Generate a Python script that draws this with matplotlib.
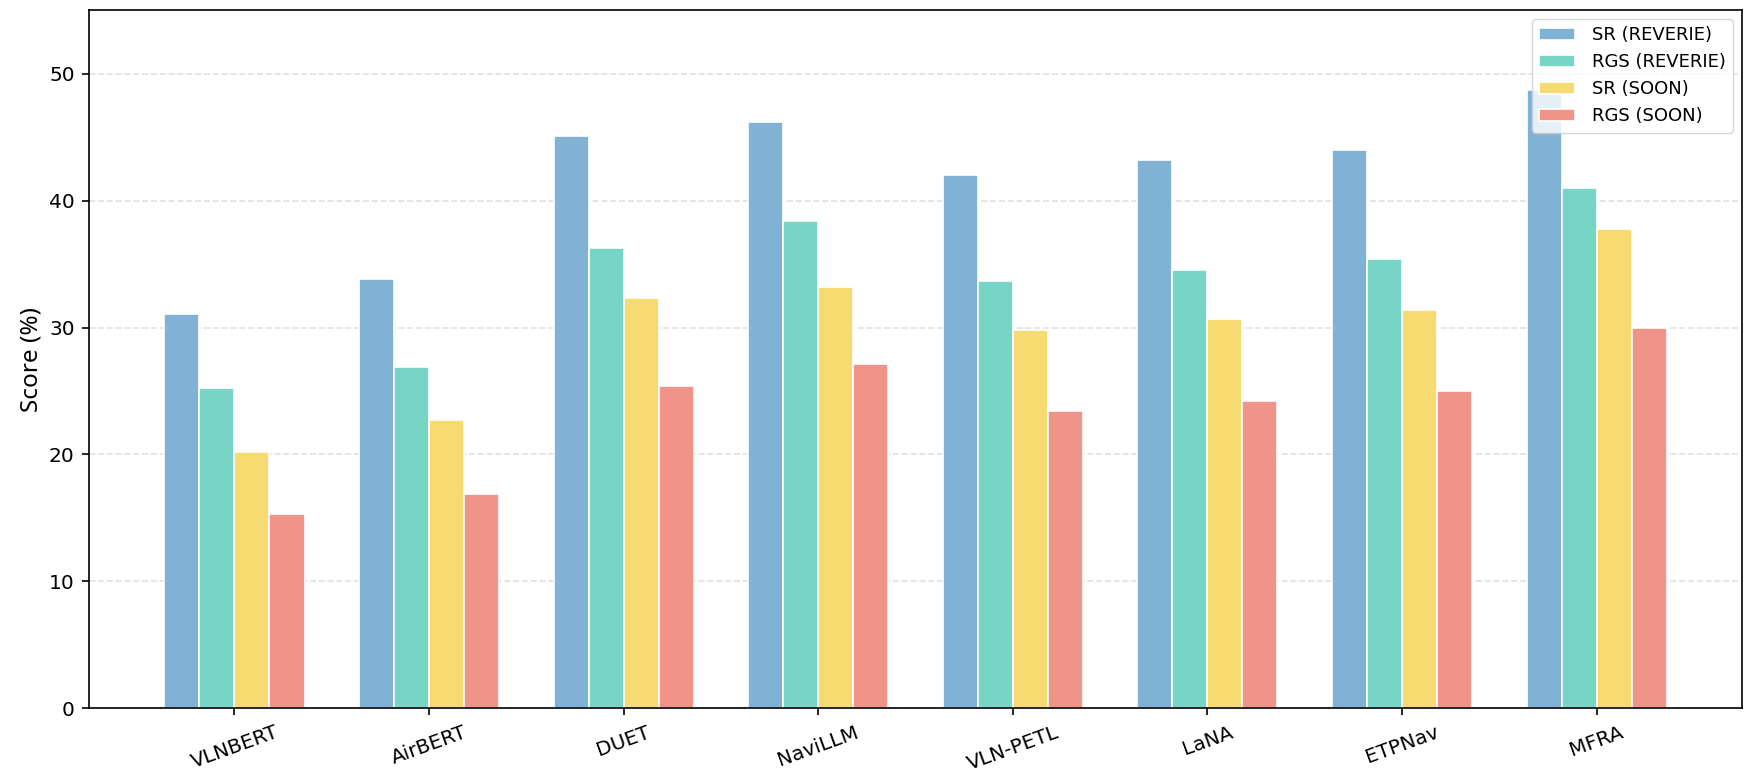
# --- Python Imports ---
from matplotlib import pyplot as plt
import numpy as np

# --- Data ---
methods     = ["VLNBERT", "AirBERT", "DUET", "NaviLLM", "VLN-PETL", "LaNA", "ETPNav", "MFRA"]
srReverie   = [31.1, 33.8, 45.1, 46.2, 42.0, 43.2, 44.0, 48.7]
rgsReverie  = [25.2, 26.9, 36.3, 38.4, 33.7, 34.5, 35.4, 41.0]
srSoon      = [20.2, 22.7, 32.3, 33.2, 29.8, 30.7, 31.4, 37.8]
rgsSoon     = [15.3, 16.9, 25.4, 27.1, 23.4, 24.2, 25.0, 30.0]

seriesLabels = ["SR (REVERIE)", "RGS (REVERIE)", "SR (SOON)", "RGS (SOON)"]
colors       = ["#7FB2D5", "#76D5C4", "#F6DB73", "#F09489"]

# ---------------------------------------------------------
fig, ax = plt.subplots( figsize=(17.51, 7.81), dpi=100 )
fig.subplots_adjust( left=0.051, right=0.9947, top=0.987, bottom=0.093 )

x       = np.arange( len(methods) )
width   = 0.18
series  = [srReverie, rgsReverie, srSoon, rgsSoon]

for index, (values, label, color) in enumerate( zip(series, seriesLabels, colors) ):
    ax.bar( x + (index - 1.5) * width,
            values,
            width,
            label=label,
            color=color,
            edgecolor="white",
            linewidth=1.2 )

ax.set_ylim( 0, 55 )
ax.set_ylabel( "Score (%)", fontsize=17.5, family=["Noto Sans", "DejaVu Sans"] )
ax.set_xticks( x )
ax.set_xticklabels( methods, rotation=20, fontsize=14.5 )
ax.tick_params( axis="both", length=5.25, width=1.2, pad=5.25 )
ax.tick_params( axis="y", labelsize=14.5 )
for spine in ax.spines.values():
    spine.set_linewidth( 1.2 )
ax.grid( axis="y", linestyle="--", color="#cccccc", alpha=0.6, linewidth=1.2 )
ax.set_axisbelow( True )
ax.legend( loc="upper right", fontsize=13, handletextpad=0.9 )

fig.savefig( "out.png", dpi=100 )
